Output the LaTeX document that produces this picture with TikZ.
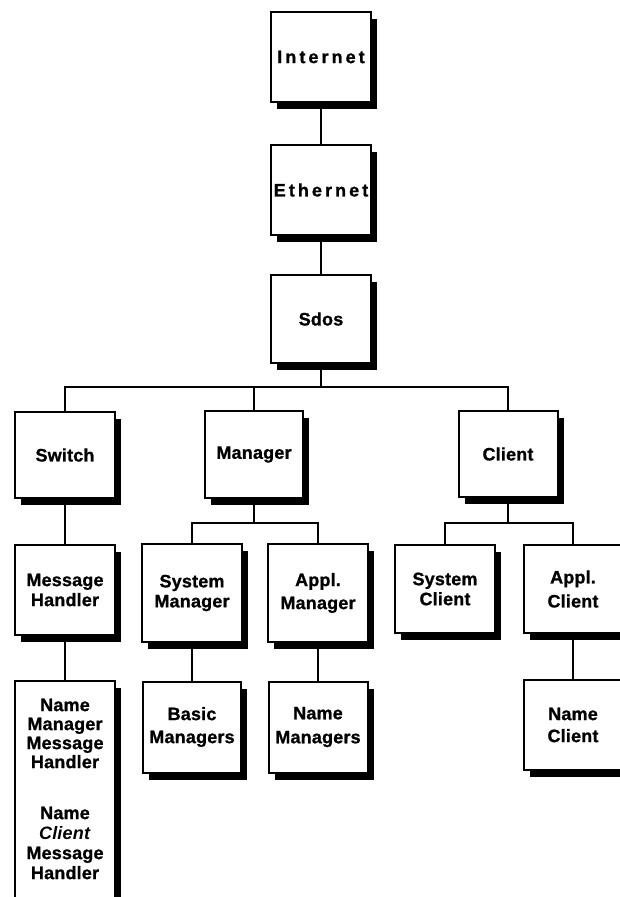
\documentclass[tikz,border=0pt]{standalone}
\usepackage{fontspec}
\setmainfont{Liberation Sans}[LetterSpace=1, BoldFeatures={FakeBold=1}]
\newfontfamily\widefont{Liberation Sans}[LetterSpace=17, BoldFeatures={FakeBold=1}]
\usetikzlibrary{shadows}

\tikzset{
  blk/.style={draw=black, line width=2pt, fill=white, inner sep=0pt,
    align=center, font=\fontsize{18}{20}\selectfont\bfseries,
    drop shadow={shadow xshift=6pt, shadow yshift=-7pt, fill=black, opacity=1}},
  lbl/.style={align=center, inner sep=0pt, font=\fontsize{18}{20}\selectfont\bfseries},
  wire/.style={line width=1.5pt, black}
}

\begin{document}
\begin{tikzpicture}[x=1pt, y=-1pt]
\useasboundingbox (0,0) rectangle (620,897);

% top chain
\node[blk, minimum width=100pt, minimum height=90pt] (inet) at (321,57) {\widefont Internet};
\node[blk, minimum width=100pt, minimum height=90pt] (eth)  at (321,190) {\widefont Ethernet};
\node[blk, minimum width=100pt, minimum height=88pt] (sdos) at (321,319) {Sdos};

% second level
\node[blk, minimum width=100pt, minimum height=86pt] (switch)  at (65,455)  {Switch};
\node[blk, minimum width=98pt,  minimum height=87pt] (manager) at (254,454.5) {Manager};
\node[blk, minimum width=99pt,  minimum height=86pt] (client)  at (508,454) {Client};

% third level
\node[blk, minimum width=100pt, minimum height=90pt] (mh)         at (65,590)  {Message\\Handler};
\node[blk, minimum width=100pt, minimum height=98pt] (sysmgr)     at (192,593) {System\\Manager};
\node[blk, minimum width=100pt, minimum height=98pt] (applmgr)    at (318,593) {Appl.\\[3pt]Manager};
\node[blk, minimum width=100pt, minimum height=88pt] (sysclient)  at (445,589) {System\\Client};
\node[blk, minimum width=98pt,  minimum height=88pt] (applclient) at (573,589) {Appl.\\[4pt]Client};

% fourth level
\node[blk, minimum width=100pt, minimum height=250pt] (nmmh) at (65,806) {};
\node[lbl] (nmmhtext) at (65,789) {Name\\[-1pt]Manager\\[-1pt]Message\\[-1pt]Handler\\[31pt]Name\\\textit{Client}\\Message\\Handler};
\node[blk, minimum width=98pt, minimum height=91pt] (basic)      at (192,727) {Basic\\[3pt]Managers};
\node[blk, minimum width=99pt, minimum height=91pt] (namemgrs)   at (318,727) {Name\\[4pt]Managers};
\node[blk, minimum width=98pt, minimum height=90pt] (nameclient) at (573,725) {Name\\[2pt]Client};

% connectors
\coordinate (bus)  at (0,387);
\coordinate (mbus) at (0,523);
\coordinate (cbus) at (0,523);

\draw[wire] (inet.south) -- (eth.north);
\draw[wire] (eth.south) -- (sdos.north);
\draw[wire] (sdos.south) -- (sdos.south |- bus);
\draw[wire] (switch.north) -- (switch.north |- bus) -- (client.north |- bus) -- (client.north);
\draw[wire] (manager.north) -- (manager.north |- bus);

\draw[wire] (switch.south) -- (mh.north);
\draw[wire] (mh.south) -- (mh.south |- nmmh.north);

\draw[wire] (manager.south) -- (manager.south |- mbus);
\draw[wire] (sysmgr.north) -- (sysmgr.north |- mbus) -- (applmgr.north |- mbus) -- (applmgr.north);
\draw[wire] (sysmgr.south) -- (basic.north);
\draw[wire] (applmgr.south) -- (namemgrs.north);

\draw[wire] (client.south) -- (client.south |- cbus);
\draw[wire] (sysclient.north) -- (sysclient.north |- cbus) -- (applclient.north |- cbus) -- (applclient.north);
\draw[wire] (applclient.south) -- (nameclient.north);
\end{tikzpicture}
\end{document}
